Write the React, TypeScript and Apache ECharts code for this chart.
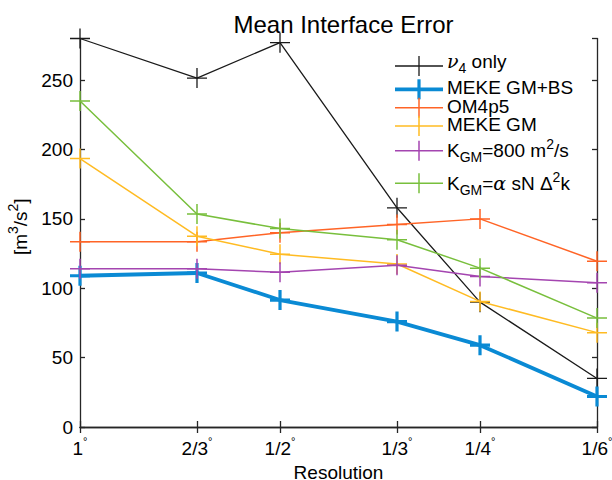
import { useEffect, useRef } from 'react';
import * as echarts from 'echarts';

const resolutionLabels = ['1', '2/3', '1/2', '1/3', '1/4', '1/6'];
const resolutionValues = [1, 1.5, 2, 3, 4, 6];

const nu4Only = [280, 251.5, 277, 158, 90, 35];
const mekeGMBS = [109, 111, 91.5, 76, 59, 22];
const om4p5 = [133.5, 133.5, 140, 146, 150, 119.5];
const mekeGM = [193.5, 137.5, 124.5, 117.5, 90.5, 68];
const kgm800 = [114, 114, 111.5, 116.5, 108.5, 104];
const kgmAlpha = [235, 153.5, 143, 135, 114.5, 78.5];

const seriesNames = ['ν4 only', 'MEKE GM+BS', 'OM4p5', 'MEKE GM', 'KGM=800 m2/s', 'KGM=α sN Δ2k'];
const seriesRichNames = [
  '{it|ν}{sub|4}{b| only}',
  '{b|MEKE GM+BS}',
  '{b|OM4p5}',
  '{b|MEKE GM}',
  '{b|K}{sub|GM}{b|=800 m}{sup|2}{b|/s}',
  '{b|K}{sub|GM}{b|=}{it|α}{b| sN Δ}{sup|2}{b|k}',
];
const seriesValues = [nu4Only, mekeGMBS, om4p5, mekeGM, kgm800, kgmAlpha];
const seriesColors = ['#1a1a1a', '#0a8ad4', '#ff6426', '#ffbb22', '#a445b0', '#78bf3c'];
const seriesWidths = [1.3, 3.8, 1.5, 1.5, 1.5, 1.5];
const markerWidths = [1.3, 3.2, 1.5, 1.5, 1.5, 1.5];

const yMin = 0;
const yMax = 280;
const yInterval = 50;

const FONT = 'Liberation Sans, Arial, Helvetica, sans-serif';
const AXIS_COLOR = '#262626';
const PLUS = 'path://M10,0 L10,20 M0,10 L20,10';
const FS = 19;
const B_PAD = 4; // top padding of base text inside rich line
const B_CENTER = B_PAD + FS / 2;

const legendRowY = [66, 89.3, 107.7, 126, 150.7, 183.3];
const legendTextShift = [-4.7, -1.5, -1.4, -1.5, 0, 0];

const legendRich = {
  b: { fontSize: FS, lineHeight: 18, padding: [B_PAD, 0, 0, 0], verticalAlign: 'top', fontFamily: FONT, fill: '#000' },
  it: { fontSize: FS, lineHeight: 18, padding: [B_PAD, 0, 0, 0], verticalAlign: 'top', fontFamily: 'DejaVu Serif, serif', fontStyle: 'italic', fill: '#000' },
  sub: { fontSize: 14, lineHeight: 14, padding: [B_PAD + 9, 0, 0, 0], verticalAlign: 'top', fontFamily: FONT, fill: '#000' },
  sup: { fontSize: 14, lineHeight: 14, padding: [0, 0, 0, 0], verticalAlign: 'top', fontFamily: FONT, fill: '#000' },
};

function labelFor(v: number) {
  const i = resolutionValues.findIndex((x) => Math.abs(x - v) < 1e-6);
  return i >= 0 ? `{n|${resolutionLabels[i]}}{d|°}` : '';
}

export default function App() {
  const ref = useRef<HTMLDivElement>(null);
  useEffect(() => {
    if (!ref.current) return;
    const chart = echarts.init(ref.current, null, { renderer: 'svg' });

    const legendGraphics: any[] = [];
    seriesNames.forEach((_, i) => {
      const y = legendRowY[i];
      legendGraphics.push({
        type: 'line',
        shape: { x1: 395, y1: y, x2: 443, y2: y },
        style: { stroke: seriesColors[i], lineWidth: seriesWidths[i] },
      });
      legendGraphics.push({
        type: 'line',
        shape: { x1: 419, y1: y - 10, x2: 419, y2: y + 10 },
        style: { stroke: seriesColors[i], lineWidth: markerWidths[i] },
      });
      legendGraphics.push({
        type: 'text',
        x: 447,
        y: y + legendTextShift[i] - B_CENTER,
        style: {
          text: seriesRichNames[i],
          rich: legendRich,
          verticalAlign: 'top',
          align: 'left',
          fontFamily: FONT,
          fontSize: FS,
        },
      });
    });

    const xTickLabel = {
      customValues: resolutionValues,
      formatter: (v: number) => labelFor(v),
      margin: 8,
      rich: {
        n: { fontSize: FS, lineHeight: 24, padding: [B_PAD, 0, 0, 0], verticalAlign: 'top', fontFamily: FONT, color: '#000' },
        d: { fontSize: 11, lineHeight: 11, verticalAlign: 'top', fontFamily: FONT, color: '#000' },
      },
    };

    chart.setOption({
      animation: false,
      backgroundColor: '#fff',
      title: {
        text: 'Mean Interface Error',
        left: 338.5,
        textAlign: 'center',
        top: 7,
        textStyle: { fontFamily: FONT, fontSize: 24, fontWeight: 'normal', color: '#000' },
      },
      grid: { left: 80, right: 15, top: 38.5, bottom: 53, containLabel: false, outerBoundsMode: 'none' },
      xAxis: [
        {
          type: 'log',
          logBase: 10,
          min: 1,
          max: 6,
          name: 'Resolution',
          nameLocation: 'middle',
          nameGap: 32,
          nameTextStyle: { fontFamily: FONT, fontSize: FS, lineHeight: 18, color: '#000', verticalAlign: 'top' },
          axisLine: { show: true, lineStyle: { color: AXIS_COLOR, width: 1.3 } },
          axisTick: { show: true, inside: true, length: 6, customValues: resolutionValues, lineStyle: { color: AXIS_COLOR, width: 1.3 } },
          axisLabel: xTickLabel,
          splitLine: { show: false },
          minorTick: { show: false },
        },
        {
          type: 'log',
          logBase: 10,
          min: 1,
          max: 6,
          position: 'top',
          axisLine: { show: true, lineStyle: { color: AXIS_COLOR, width: 1.3 } },
          axisTick: { show: true, inside: true, length: 6, customValues: resolutionValues, lineStyle: { color: AXIS_COLOR, width: 1.3 } },
          axisLabel: { show: false },
          splitLine: { show: false },
        },
      ],
      yAxis: [
        {
          type: 'value',
          min: yMin,
          max: yMax,
          interval: yInterval,
          name: '{b|[m}{sup|3}{b|/s}{sup|2}{b|]}',
          nameLocation: 'middle',
          nameRotate: 90,
          nameGap: 37,
          nameTextStyle: {
            fontFamily: FONT,
            fontSize: FS,
            color: '#000',
            padding: [0, 0, 0, 12],
            rich: {
              b: { fontSize: FS, lineHeight: 24, padding: [B_PAD + 1, 0, 0, 0], verticalAlign: 'top', fontFamily: FONT, color: '#000' },
              sup: { fontSize: 14, lineHeight: 14, verticalAlign: 'top', fontFamily: FONT, color: '#000' },
            },
          },
          axisLine: { show: true, lineStyle: { color: AXIS_COLOR, width: 1.3 } },
          axisTick: { show: true, inside: true, length: 5, lineStyle: { color: AXIS_COLOR, width: 1.3 } },
          axisLabel: { showMaxLabel: false, margin: 7, fontFamily: FONT, fontSize: FS, color: '#000' },
          splitLine: { show: false },
        },
        {
          type: 'value',
          min: yMin,
          max: yMax,
          interval: yInterval,
          position: 'right',
          axisLine: { show: true, lineStyle: { color: AXIS_COLOR, width: 1.3 } },
          axisTick: { show: true, inside: true, length: 5, lineStyle: { color: AXIS_COLOR, width: 1.3 } },
          axisLabel: { show: false },
          splitLine: { show: false },
        },
      ],
      series: seriesNames.map((name, i) => ({
        name,
        type: 'line',
        xAxisIndex: 0,
        yAxisIndex: 0,
        clip: false,
        data: resolutionValues.map((x, j) => [x, seriesValues[i][j]]),
        symbol: PLUS,
        symbolSize: 20,
        showAllSymbol: true,
        lineStyle: { color: seriesColors[i], width: seriesWidths[i] },
        itemStyle: { color: seriesColors[i], borderColor: seriesColors[i], borderWidth: markerWidths[i] },
        z: 2 + i,
      })),
      graphic: legendGraphics,
    });
    return () => chart.dispose();
  }, []);
  return <div ref={ref} style={{ width: 612, height: 480, position: 'absolute', left: 0, top: 0 }} />;
}
